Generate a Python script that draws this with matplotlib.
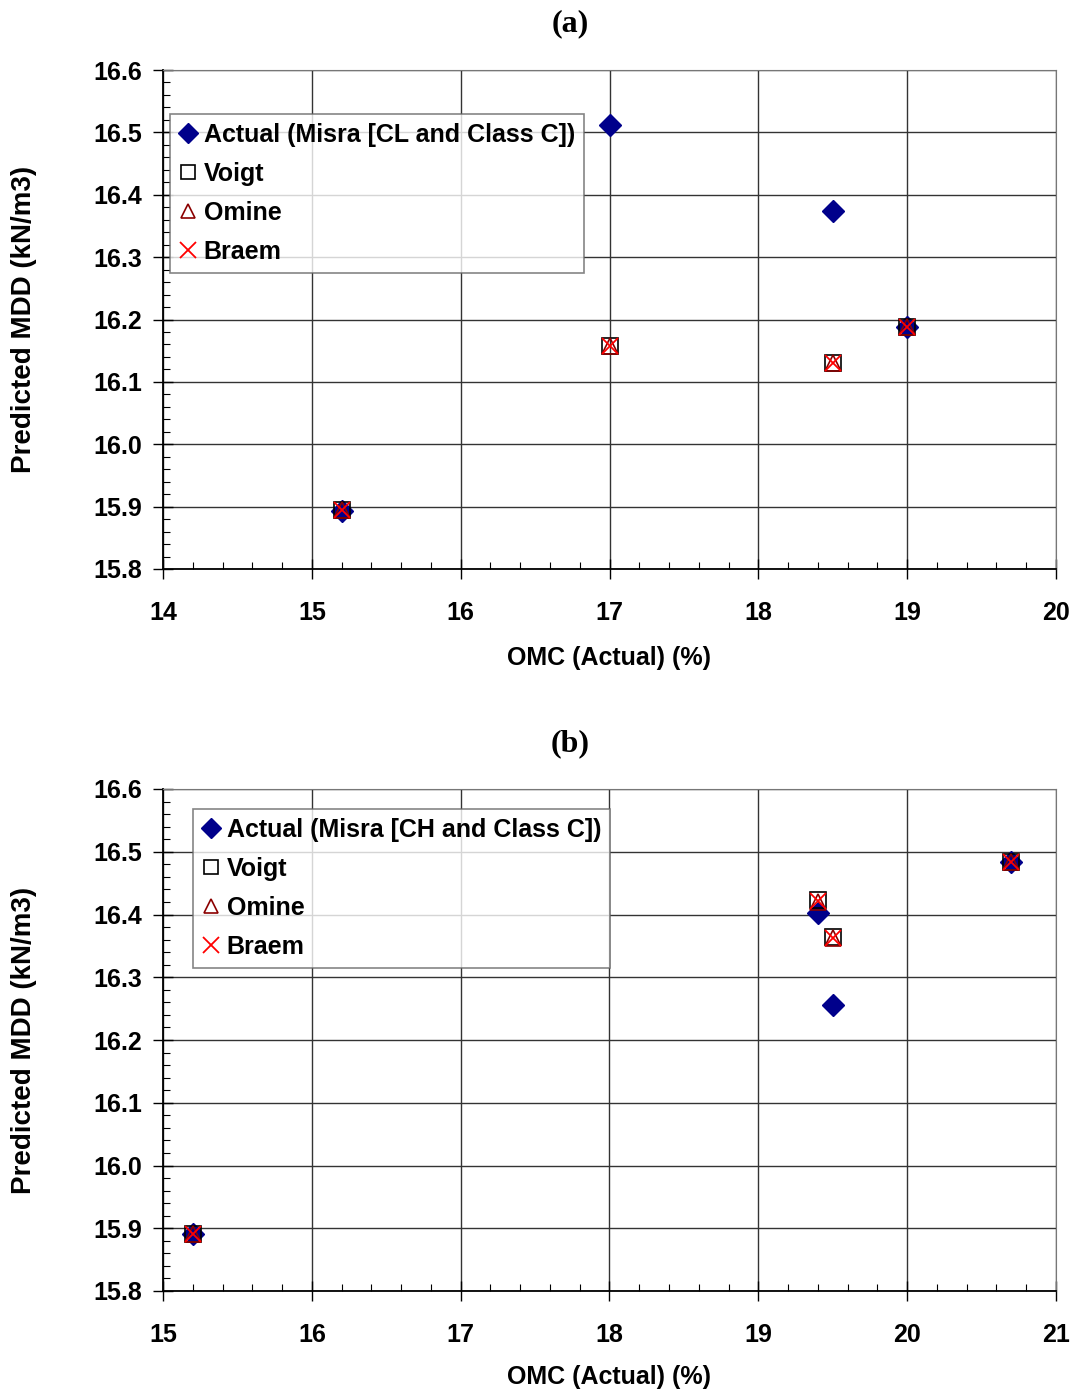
import matplotlib
matplotlib.use("Agg")
import matplotlib.pyplot as plt
from matplotlib.ticker import MultipleLocator, FormatStrFormatter

plt.rcParams['font.family'] = ['Liberation Sans', 'DejaVu Sans']

# Panel (a): CL and Class C
omc_a = [15.2, 17.0, 18.5, 19.0]
actual_a = [15.893, 16.512, 16.374, 16.188]
voigt_a = [15.895, 16.158, 16.130, 16.188]
omine_a = [15.895, 16.158, 16.130, 16.188]
braem_a = [15.895, 16.158, 16.130, 16.188]

# Panel (b): CH and Class C
omc_b = [15.2, 19.4, 19.5, 20.7]
actual_b = [15.891, 16.402, 16.256, 16.484]
voigt_b = [15.891, 16.423, 16.364, 16.484]
omine_b = [15.891, 16.420, 16.362, 16.484]
braem_b = [15.891, 16.421, 16.363, 16.484]

xticks_a = [14, 15, 16, 17, 18, 19, 20]
xticks_b = [15, 16, 17, 18, 19, 20, 21]
yticks = [15.8, 15.9, 16.0, 16.1, 16.2, 16.3, 16.4, 16.5, 16.6]

fig = plt.figure(figsize=(10.82, 13.93), dpi=100)
W, H = 1082, 1393


def ax_rect(l, t, r, b):
    return [l / W, 1 - b / H, (r - l) / W, (b - t) / H]


def panel(rect, omc, act, vo, om, br, xticks, series_name, title, title_y, leg_box, xlabel_y):
    ax = fig.add_axes(ax_rect(*rect))
    ax.plot(omc, act, ls='none', marker='D', ms=11, mfc='#00008B', mec='#00008B',
            label=f'Actual (Misra [{series_name} and Class C])', zorder=3)
    ax.plot(omc, vo, ls='none', marker='s', ms=11, mfc='none', mec='black', mew=1.2,
            label='Voigt', zorder=4)
    ax.plot(omc, om, ls='none', marker='^', ms=11, mfc='none', mec='#8B0000', mew=1.2,
            label='Omine', zorder=5)
    ax.plot(omc, br, ls='none', marker='x', ms=12, mec='red', mew=1.3,
            label='Braem', zorder=6)

    ax.set_xlim(xticks[0], xticks[-1])
    ax.set_ylim(yticks[0], yticks[-1])
    ax.set_xticks(xticks)
    ax.set_yticks(yticks)
    ax.xaxis.set_minor_locator(MultipleLocator(0.2))
    ax.yaxis.set_minor_locator(MultipleLocator(0.02))
    ax.yaxis.set_major_formatter(FormatStrFormatter('%.1f'))
    ax.grid(True, which='major', color='#333333', lw=1.0)
    ax.set_axisbelow(True)
    ax.tick_params(which='major', direction='inout', length=14, width=1.0, labelsize=18, pad=8)
    ax.tick_params(which='minor', direction='in', length=5, width=0.8)
    ax.tick_params(axis='x', which='major', pad=16)
    for lab in ax.get_xticklabels() + ax.get_yticklabels():
        lab.set_fontweight('bold')
    for s in ['top', 'right']:
        ax.spines[s].set_color('#777777')
    for s in ['left', 'bottom']:
        ax.spines[s].set_color('black')
        ax.spines[s].set_linewidth(1.3)

    l, t, r, b = rect
    ax.set_ylabel('Predicted MDD (kN/m3)', fontsize=20, fontweight='bold')
    ax.yaxis.set_label_coords((37 - l) / (r - l), 0.5)
    fig.text(609 / W, 1 - xlabel_y / H, 'OMC (Actual) (%)', fontsize=18, fontweight='bold',
             ha='center', va='center')
    fig.text(570 / W, 1 - title_y / H, title, fontsize=23, fontweight='bold',
             family='Liberation Serif', ha='center', va='center')

    bl, bt, br_, bb = leg_box
    leg = ax.legend(loc='upper left',
                    bbox_to_anchor=((bl - l) / (r - l), 1 - (bt - t) / (b - t)),
                    prop={'weight': 'bold', 'size': 18},
                    frameon=True, fancybox=False, edgecolor='#666666',
                    handlelength=0.7, handletextpad=0.3, labelspacing=0.6,
                    borderpad=0.35, borderaxespad=0, markerscale=0.95)
    leg.get_frame().set_linewidth(1.2)
    return ax


panel((163, 70, 1056, 569), omc_a, actual_a, voigt_a, omine_a, braem_a, xticks_a,
      'CL', '(a)', 24, (170, 114, 586, 272), 658)
panel((163, 789, 1056, 1291), omc_b, actual_b, voigt_b, omine_b, braem_b, xticks_b,
      'CH', '(b)', 744, (193, 809, 600, 966), 1377)

fig.savefig('out.png', dpi=100)
